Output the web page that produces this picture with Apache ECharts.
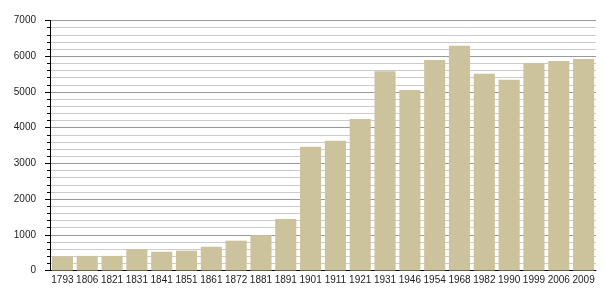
<!DOCTYPE html>
<html><head><meta charset="utf-8">
<script src="https://cdn.jsdelivr.net/npm/echarts@6/dist/echarts.min.js"></script>
<style>html,body{margin:0;padding:0;background:#fff}#c{width:605px;height:300px}</style>
</head><body><div id="c"></div>
<script>
var years = ['1793','1806','1821','1831','1841','1851','1861','1872','1881','1891','1901','1911','1921','1931','1946','1954','1968','1982','1990','1999','2006','2009'];
var population = [395,410,410,600,525,555,665,835,990,1440,3465,3630,4240,5580,5055,5895,6295,5510,5340,5810,5865,5925];
var yTicks = [0,1000,2000,3000,4000,5000,6000,7000];

var chart = echarts.init(document.getElementById('c'), null, {renderer:'canvas'});
chart.setOption({
  animation:false,
  grid:{left:50,right:9,top:20.5,bottom:29.5,containLabel:false},
  xAxis:{type:'category',data:years,boundaryGap:true,
    axisLine:{show:true,lineStyle:{color:'#000',width:1}},
    axisTick:{show:false},
    axisLabel:{interval:0,color:'#222',fontSize:10,fontFamily:'Liberation Sans, Arial, sans-serif',margin:5}},
  yAxis:{type:'value',min:yTicks[0],max:yTicks[yTicks.length-1],interval:1000,
    axisLine:{show:true,lineStyle:{color:'#000',width:1}},
    axisTick:{show:true,length:5,lineStyle:{color:'#000'}},
    minorTick:{show:true,splitNumber:5,length:3,lineStyle:{color:'#000'}},
    splitLine:{show:true,lineStyle:{color:'#999',width:1}},
    minorSplitLine:{show:true,lineStyle:{color:'#ccc',width:1}},
    axisLabel:{color:'#222',fontSize:10,fontFamily:'Liberation Sans, Arial, sans-serif',margin:14,
      formatter:function(v){return String(v);}}},
  series:[{type:'bar',data:population,barCategoryGap:'15%',
    itemStyle:{color:'#ccc29c'},z:3}]
});
</script></body></html>
